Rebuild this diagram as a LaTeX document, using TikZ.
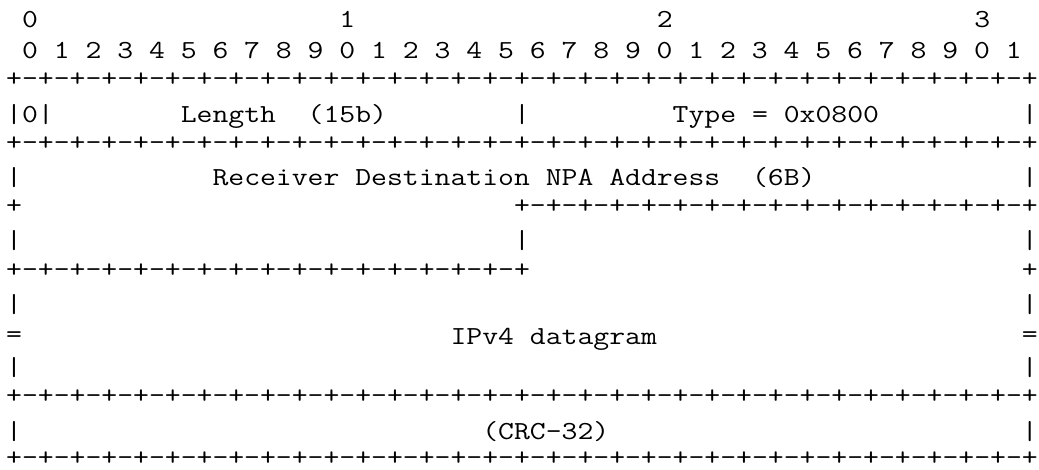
\documentclass[tikz,border=0pt]{standalone}
\usepackage{graphicx}
\newlength{\chw}
\newcommand{\courierlike}[1]{{\ttfamily\fontsize{26pt}{31.7pt}\selectfont
  \settowidth{\chw}{0}\pgfmathsetmacro{\chsc}{15.87pt/\chw}%
  \scalebox{\chsc}[1]{#1}}}
\tikzset{
  asc/.style={anchor=base west, inner sep=0pt, outer sep=0pt, text depth=0pt},
  rulerow/.style={asc, yshift=3.5pt}
}
\newcommand{\fullrule}{+-+-+-+-+-+-+-+-+-+-+-+-+-+-+-+-+-+-+-+-+-+-+-+-+-+-+-+-+-+-+-+-+}
\newcommand{\halfrule}{+-+-+-+-+-+-+-+-+-+-+-+-+-+-+-+-+}
\begin{document}
\begin{tikzpicture}
\useasboundingbox (0pt,0pt) rectangle (1039pt,-469pt);
\begin{scope}[shift={(6.2pt,-27pt)}, x=15.87pt, y=-31.7pt]
% row 0: decade numbers
\node[asc] (d0) at (1,0) {\courierlike{0}};
\node[asc] (d1) at (21,0) {\courierlike{1}};
\node[asc] (d2) at (41,0) {\courierlike{2}};
\node[asc] (d3) at (61,0) {\courierlike{3}};
% row 1: bit numbers
\node[asc] (bits) at (1,1) {\courierlike{0~1~2~3~4~5~6~7~8~9~0~1~2~3~4~5~6~7~8~9~0~1~2~3~4~5~6~7~8~9~0~1}};
% row 2
\node[rulerow] (r2) at (0,2) {\courierlike{\fullrule}};
% row 3
\node[asc] (zero) at (0,3) {\courierlike{|0|}};
\node[asc] (len) at (11,3) {\courierlike{Length~~(15b)}};
\node[asc] (b3a) at (32,3) {\courierlike{|}};
\node[asc] (type) at (42,3) {\courierlike{Type~=~0x0800}};
\node[asc] (b3b) at (64,3) {\courierlike{|}};
% row 4
\node[rulerow] (r4) at (0,4) {\courierlike{\fullrule}};
% row 5
\node[asc] (b5a) at (0,5) {\courierlike{|}};
\node[asc] (rda) at (13,5) {\courierlike{Receiver~Destination~NPA~Address~~(6B)}};
\node[asc] (b5b) at (64,5) {\courierlike{|}};
% row 6
\node[rulerow] (p6) at (0,6) {\courierlike{+}};
\node[rulerow] (r6) at (32,6) {\courierlike{\halfrule}};
% row 7
\node[asc] (b7a) at (0,7) {\courierlike{|}};
\node[asc] (b7b) at (32,7) {\courierlike{|}};
\node[asc] (b7c) at (64,7) {\courierlike{|}};
% row 8
\node[rulerow] (r8) at (0,8) {\courierlike{\halfrule}};
\node[rulerow] (p8) at (64,8) {\courierlike{+}};
% row 9
\node[asc] (b9a) at (0,9) {\courierlike{|}};
\node[asc] (b9b) at (64,9) {\courierlike{|}};
% row 10
\node[asc, yshift=1.5pt] (e10a) at (0,10) {\courierlike{=}};
\node[asc] (ipv4) at (28,10) {\courierlike{IPv4~datagram}};
\node[asc, yshift=1.5pt] (e10b) at (64,10) {\courierlike{=}};
% row 11
\node[asc] (b11a) at (0,11) {\courierlike{|}};
\node[asc] (b11b) at (64,11) {\courierlike{|}};
% row 12
\node[rulerow] (r12) at (0,12) {\courierlike{\fullrule}};
% row 13
\node[asc] (b13a) at (0,13) {\courierlike{|}};
\node[asc] (crc) at (30,13) {\courierlike{(CRC-32)}};
\node[asc] (b13b) at (64,13) {\courierlike{|}};
% row 14
\node[rulerow, yshift=1.5pt] (r14) at (0,14) {\courierlike{\fullrule}};
\end{scope}
\end{tikzpicture}
\end{document}
